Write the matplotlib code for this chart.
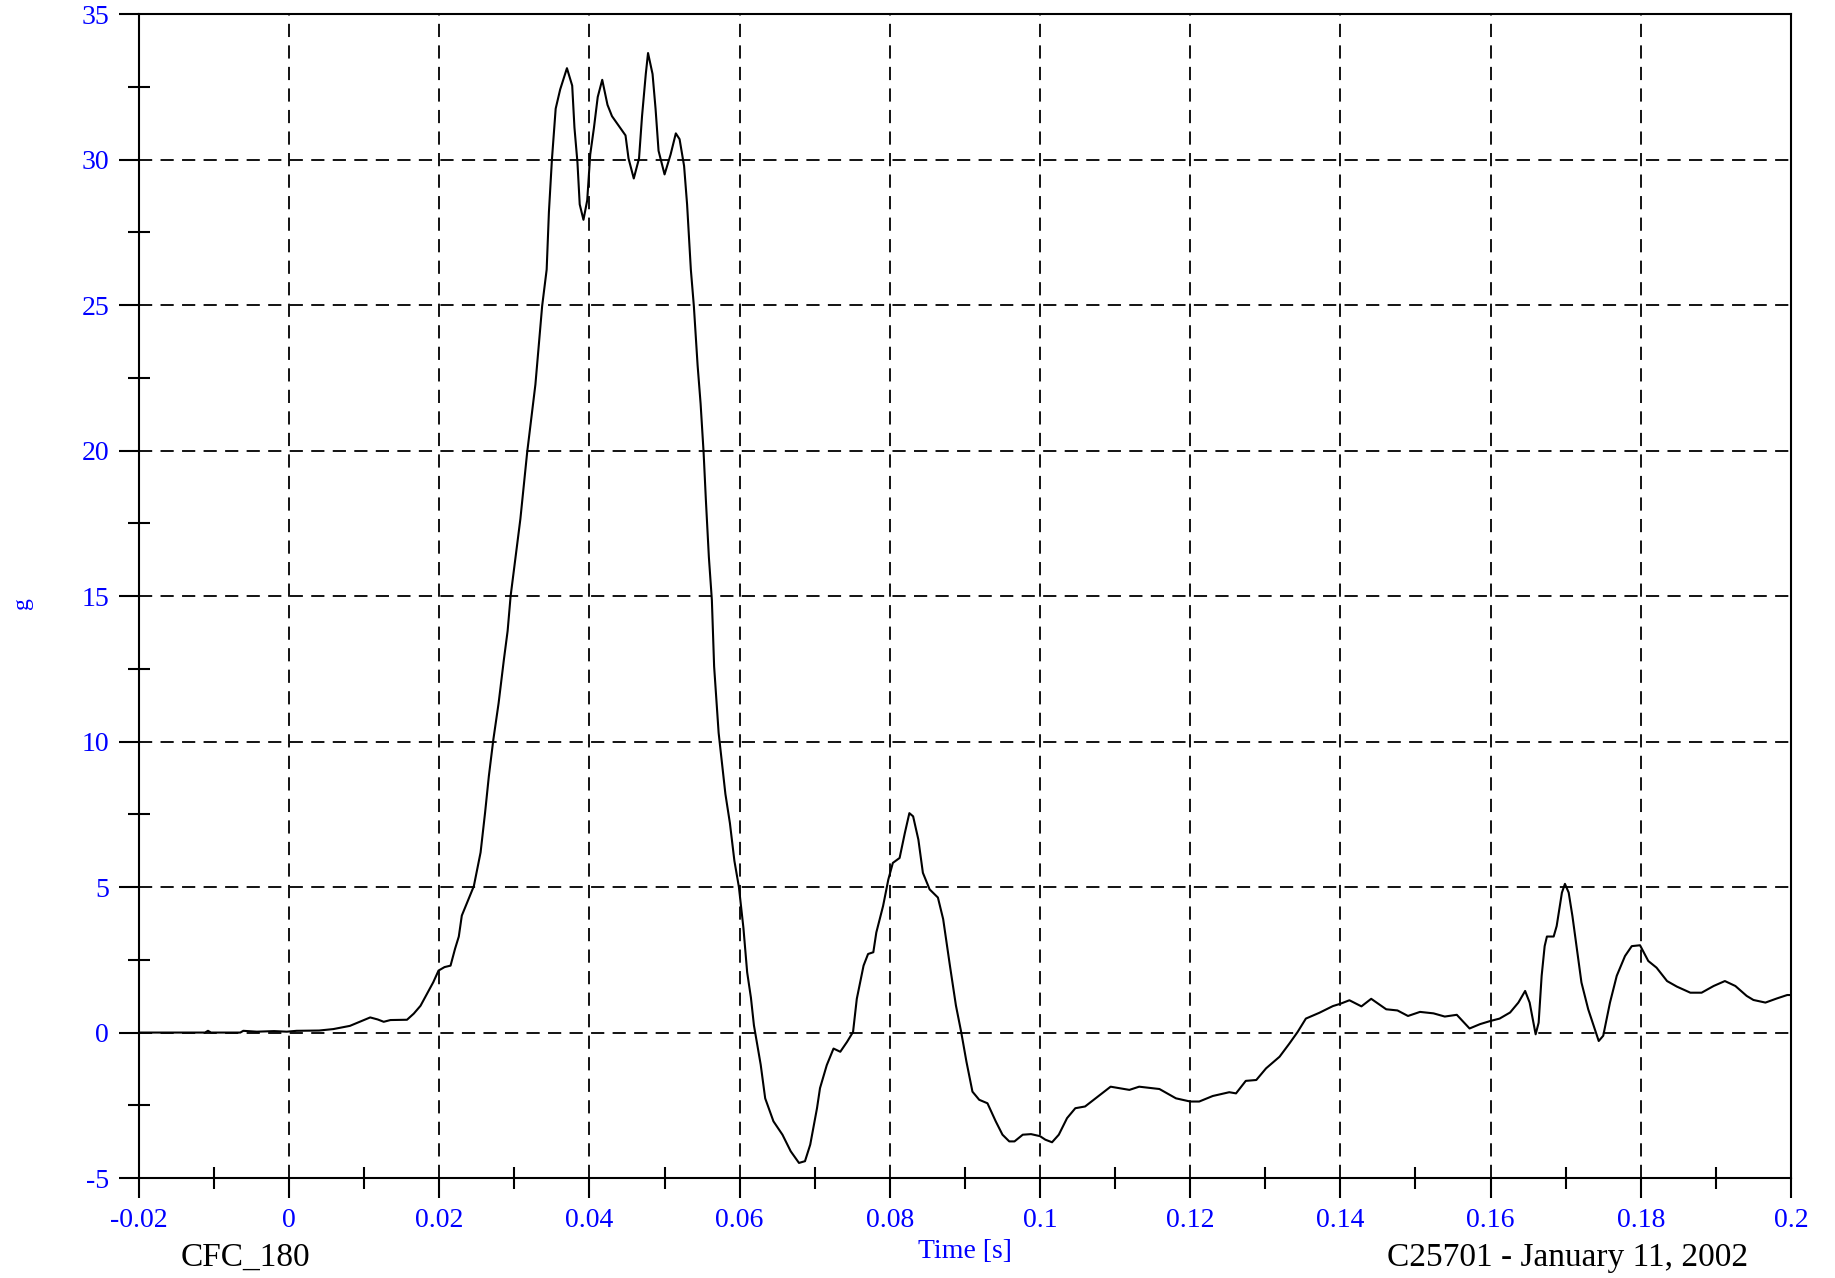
import matplotlib
matplotlib.use("Agg")
import matplotlib.pyplot as plt
from matplotlib.ticker import MultipleLocator, FixedLocator

# Acceleration trace (time in s, acceleration in g)
time_s = [
    -0.02, -0.0112, -0.0108, -0.0104, -0.0065, -0.0061, -0.0043, -0.002, -0.0003, 0.001,
    0.004, 0.0059, 0.0081, 0.0095, 0.0108, 0.0118, 0.0126, 0.0135, 0.0157, 0.0166,
    0.0175, 0.0192, 0.0199, 0.0207, 0.0215, 0.0221, 0.0226, 0.023, 0.0246, 0.0255,
    0.0261, 0.0266, 0.0272, 0.0279, 0.0286, 0.0291, 0.0295, 0.0308, 0.0317, 0.0328,
    0.0337, 0.0343, 0.0346, 0.035, 0.0355, 0.0361, 0.037, 0.0377, 0.038, 0.0384,
    0.0387, 0.0392, 0.0397, 0.0401, 0.0406, 0.0411, 0.0417, 0.0424, 0.043, 0.0441,
    0.0448, 0.0452, 0.0459, 0.0466, 0.047, 0.0475, 0.0478, 0.0484, 0.0488, 0.0492,
    0.05, 0.0508, 0.0515, 0.052, 0.0526, 0.053, 0.0535, 0.0539, 0.0544, 0.0548,
    0.0552, 0.0555, 0.0559, 0.0563, 0.0566, 0.0572, 0.0581, 0.0587, 0.0593, 0.0599,
    0.0605, 0.061, 0.0615, 0.0619, 0.0628, 0.0634, 0.0645, 0.0657, 0.0668, 0.0679,
    0.0687, 0.0694, 0.0703, 0.0707, 0.0716, 0.0725, 0.0734, 0.0743, 0.0751, 0.0756,
    0.0765, 0.0771, 0.0778, 0.0782, 0.0791, 0.0798, 0.0804, 0.0813, 0.082, 0.0826,
    0.0831, 0.0838, 0.0844, 0.0853, 0.0864, 0.0871, 0.088, 0.0888, 0.0895, 0.0902,
    0.091, 0.0919, 0.093, 0.0941, 0.095, 0.0959, 0.0966, 0.0977, 0.0988, 0.1,
    0.1007, 0.1016, 0.1025, 0.1036, 0.1047, 0.106, 0.1074, 0.1094, 0.1119, 0.1132,
    0.1159, 0.1181, 0.12, 0.1212, 0.123, 0.1252, 0.1261, 0.1274, 0.1288, 0.1301,
    0.1319, 0.1332, 0.1343, 0.1354, 0.1372, 0.139, 0.14, 0.1412, 0.1428, 0.1441,
    0.1461, 0.1476, 0.149, 0.1506, 0.1524, 0.1539, 0.1555, 0.1572, 0.1586, 0.16,
    0.1612, 0.1626, 0.1637, 0.1646, 0.1652, 0.166, 0.1664, 0.1668, 0.1672, 0.1675,
    0.1684, 0.1688, 0.1695, 0.1699, 0.1704, 0.1709, 0.1715, 0.1721, 0.173, 0.1744,
    0.175, 0.1759, 0.1768, 0.1779, 0.1788, 0.1799, 0.181, 0.1821, 0.1835, 0.1848,
    0.1866, 0.1881, 0.1897, 0.1912, 0.1926, 0.1941, 0.195, 0.1966, 0.1981, 0.1995,
    0.2,
]
accel_g = [
    0.0, 0.0, 0.06, 0.0, 0.0, 0.06, 0.03, 0.05, 0.03, 0.06,
    0.07, 0.12, 0.23, 0.38, 0.52, 0.45, 0.37, 0.43, 0.44, 0.65,
    0.92, 1.73, 2.13, 2.25, 2.3, 2.88, 3.3, 4.02, 5.03, 6.19,
    7.56, 8.81, 10.07, 11.32, 12.81, 13.8, 15.0, 17.65, 19.93, 22.27,
    24.97, 26.22, 28.2, 30.0, 31.75, 32.41, 33.14, 32.54, 31.1, 29.9,
    28.46, 27.93, 28.6, 30.17, 31.1, 32.15, 32.74, 31.88, 31.49, 31.09,
    30.83, 30.04, 29.35, 30.04, 31.49, 32.94, 33.66, 32.94, 31.75, 30.3,
    29.49, 30.17, 30.9, 30.7, 29.78, 28.46, 26.22, 24.97, 22.93, 21.61,
    19.93, 18.31, 16.34, 14.86, 12.58, 10.3, 8.2, 7.2, 5.9, 5.0,
    3.6, 2.07, 1.2, 0.25, -1.1, -2.26, -3.05, -3.51, -4.08, -4.48,
    -4.42, -3.85, -2.6, -1.91, -1.12, -0.55, -0.66, -0.32, 0.02, 1.16,
    2.3, 2.7, 2.76, 3.44, 4.35, 5.26, 5.83, 6.0, 6.86, 7.54,
    7.43, 6.63, 5.49, 4.92, 4.64, 3.9, 2.3, 0.93, 0.02, -1.0,
    -2.03, -2.31, -2.43, -3.05, -3.51, -3.74, -3.74, -3.51, -3.49, -3.56,
    -3.68, -3.77, -3.51, -2.94, -2.6, -2.54, -2.26, -1.86, -1.97, -1.86,
    -1.94, -2.26, -2.37, -2.37, -2.18, -2.05, -2.09, -1.66, -1.63, -1.23,
    -0.83, -0.38, 0.02, 0.48, 0.68, 0.91, 0.99, 1.11, 0.9, 1.16,
    0.8, 0.76, 0.57, 0.71, 0.66, 0.55, 0.61, 0.14, 0.29, 0.4,
    0.48, 0.69, 1.03, 1.43, 1.03, -0.06, 0.34, 1.95, 2.97, 3.3,
    3.3, 3.66, 4.81, 5.11, 4.81, 4.0, 2.86, 1.72, 0.8, -0.29,
    -0.11, 1.03, 1.95, 2.63, 2.97, 3.0, 2.46, 2.23, 1.77, 1.58,
    1.37, 1.37, 1.6, 1.77, 1.6, 1.26, 1.12, 1.03, 1.17, 1.29,
    1.29,
]

x_ticks = [-0.02, 0, 0.02, 0.04, 0.06, 0.08, 0.1, 0.12, 0.14, 0.16, 0.18, 0.2]
x_tick_labels = ["-0.02", "0", "0.02", "0.04", "0.06", "0.08", "0.1",
                 "0.12", "0.14", "0.16", "0.18", "0.2"]
y_ticks = [-5, 0, 5, 10, 15, 20, 25, 30, 35]
y_tick_labels = ["-5", "0", "5", "10", "15", "20", "25", "30", "35"]

plt.rcParams['font.family'] = ['Liberation Serif', 'DejaVu Serif']
plt.rcParams['axes.unicode_minus'] = False
plt.rcParams['lines.scale_dashes'] = False

fig = plt.figure(figsize=(18.35, 12.78), dpi=100)
ax = fig.add_axes([0.0757, 0.0782, 0.9003, 0.9108])

ax.plot(time_s, accel_g, color='black', lw=1.5)

ax.set_xlim(-0.02, 0.2)
ax.set_ylim(-5, 35)

ax.xaxis.set_major_locator(FixedLocator(x_ticks))
ax.set_xticklabels(x_tick_labels)
ax.xaxis.set_minor_locator(MultipleLocator(0.01))
ax.yaxis.set_major_locator(FixedLocator(y_ticks))
ax.set_yticklabels(y_tick_labels)
ax.yaxis.set_minor_locator(MultipleLocator(2.5))

ax.grid(True, which='major', color='black', lw=1.3, linestyle=(0, (9.5, 6)))

for sp in ax.spines.values():
    sp.set_linewidth(1.5)

ax.tick_params(which='major', direction='out', length=14.5, width=1.5,
               labelsize=20, labelcolor='blue', pad=7)
ax.tick_params(which='minor', direction='inout', length=16, width=1.5)

# footer texts
fig.text(0.134, 0.016, "CFC_180", fontsize=24, ha='center', va='center')
fig.text(0.526, 0.021, "Time [s]", fontsize=20, color='blue', ha='center', va='center')
fig.text(0.854, 0.016, "C25701 - January 11, 2002", fontsize=24, ha='center', va='center')
fig.text(0.012, 0.528, "g", fontsize=17, color='blue', rotation=90,
         ha='center', va='center')

plt.savefig("out.png", dpi=100)
